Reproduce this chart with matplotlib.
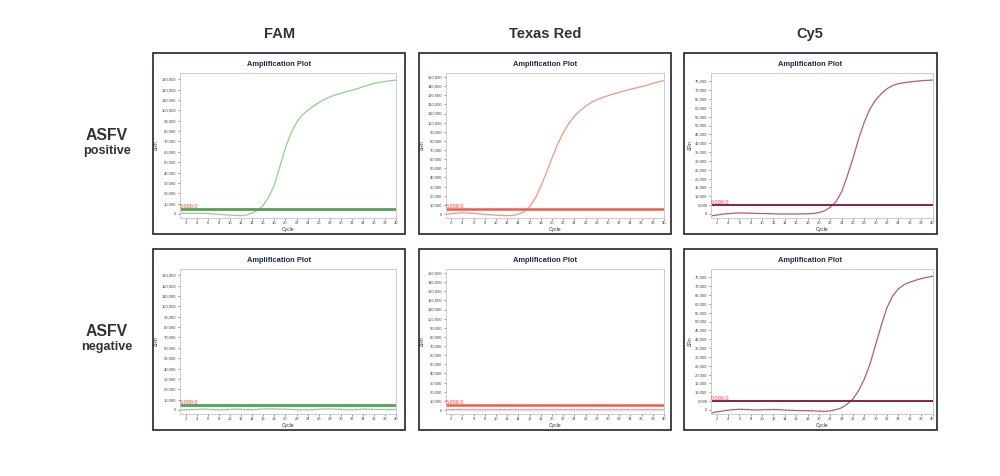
import matplotlib.pyplot as plt
from matplotlib.patches import Rectangle

plt.rcParams['font.family'] = ['Liberation Sans', 'DejaVu Sans']

W, H = 1000, 476

cycles = list(range(1, 41))

fam_pos = [500, 600, 700, 700, 600, 400, 0, -400, -800, -1100, -1400, -1600, -1000, 800,
           3500, 8500, 16500, 28000, 46000, 64000, 78000, 88500, 95500, 100000, 104000,
           107500, 110500, 113000, 115000, 116500, 118000, 119500, 121000, 123000, 124500,
           126000, 127000, 128000, 128700, 129200]
tr_pos = [-500, 300, 1000, 1400, 1200, 700, 200, -300, -800, -1200, -1600, -1800, -1500, -300,
          2500, 8000, 17000, 30000, 45000, 61000, 76000, 89000, 99000, 107000, 113000,
          118000, 122000, 125000, 127500, 129500, 131500, 133000, 135000, 136500, 138000,
          139500, 141000, 143000, 144500, 146000]
cy5_pos = [-1100, -600, -100, 200, 450, 570, 550, 450, 350, 250, 200, 100, 0, 0, 0, 0, 50,
           100, 250, 800, 1800, 3800, 7000, 12500, 21500, 31500, 42500, 52000, 59500, 64500,
           68000, 70800, 72600, 73600, 74200, 74600, 75000, 75300, 75500, 75700]
fam_neg = [0, 100, 300, 600, 900, 700, 300, 100, 200, 500, 800, 600, 300, 300, 600, 900, 1000,
           1000, 900, 800, 500, 200, 100, 100, 300, 700, 900, 900, 800, 600, 300, 200, 400, 800,
           700, 500, 400, 400, 400, 400]
tr_neg = [300, 300, 350, 350, 300, 300, 250, 250, 300, 300, 350, 300, 300, 250, 250, 300, 300,
          300, 350, 300, 300, 250, 250, 300, 300, 300, 350, 350, 300, 300, 250, 250, 300, 300,
          300, 300, 350, 300, 300, 300]
cy5_neg = [-1700, -1100, -600, -100, 200, 400, 300, 100, 0, 100, 200, 250, 150, -50, -200, -300,
           -350, -400, -500, -650, -750, -500, 200, 1200, 3400, 6200, 11000, 17500, 26000, 37000,
           48000, 58000, 64500, 68500, 70800, 72200, 73300, 74200, 74900, 75600]

threshold = 5000
col_titles = ['FAM', 'Texas Red', 'Cy5']
row_titles = [('ASFV', 'positive'), ('ASFV', 'negative')]
series = [[fam_pos, tr_pos, cy5_pos], [fam_neg, tr_neg, cy5_neg]]

y_max = [130000, 150000, 75000]
y_step = [10000, 10000, 5000]
y_lims = [(-3600, 135800), (-4000, 154000), (-2100, 79500)]
curve_colors = ['#8fd08f', '#f79484', '#b35a82']
thr_colors = ['#55a055', '#f25a48', '#8c1f42']
thr_widths = [2.0, 1.8, 1.4]

col_left = [153, 418.5, 684]
row_top = [53, 249]
box_w, box_h = 252.5, 180.5
right_pad = [9, 7, 4]


def fig_rect(x, y, w, h):
    return [x / W, 1 - (y + h) / H, w / W, h / H]


fig = plt.figure(figsize=(10, 4.76), dpi=100)

for c, t in enumerate(col_titles):
    fig.text((col_left[c] + box_w / 2) / W, 1 - 34 / H, t, ha='center', va='center',
             fontsize=10.5, fontweight='bold', color='#333333')

for r, (a, b) in enumerate(row_titles):
    yc = row_top[r] + 82
    fig.text(107 / W, 1 - yc / H, a, ha='center', va='center', fontsize=11.3,
             fontweight='bold', color='#333333')
    fig.text(107 / W, 1 - (yc + 16) / H, b, ha='center', va='center', fontsize=9.1,
             fontweight='bold', color='#333333')

for r in range(2):
    for c in range(3):
        x0, y0 = col_left[c], row_top[r]
        fig.add_artist(Rectangle((x0 / W, 1 - (y0 + box_h) / H), box_w / W, box_h / H,
                                 transform=fig.transFigure, fill=False, ec='#1c2238', lw=1.2))
        fig.text((x0 + box_w / 2) / W, 1 - (y0 + 12) / H, 'Amplification Plot', ha='center',
                 va='center', fontsize=5.4, fontweight='bold', color='#1f2a44')

        ax_l = x0 + 27
        ax_t = y0 + 20.3
        ax_w = box_w - 27 - right_pad[c]
        ax_h = 144.4
        ax = fig.add_axes(fig_rect(ax_l, ax_t, ax_w, ax_h))
        ax.plot(cycles, series[r][c], color=curve_colors[c], lw=0.9)
        ax.axhline(threshold, color=thr_colors[c], lw=thr_widths[c])
        ax.text(1.05, threshold + y_lims[c][1] * 0.005, '5,000.0', color='#ff3b2f', fontsize=4,
                ha='left', va='bottom')
        ax.set_xlim(1, 40)
        ax.set_ylim(*y_lims[c])
        ax.set_xticks(range(2, 41, 2))
        yt = list(range(0, y_max[c] + 1, y_step[c]))
        ax.set_yticks(yt)
        ax.set_yticklabels(['{:,}'.format(v) for v in yt])
        ax.tick_params(labelsize=3, length=1.5, width=0.4, pad=1, colors='#444444')
        for s in ax.spines.values():
            s.set_color('#cccccc')
            s.set_linewidth(0.7)
        ax.set_xlabel('Cycle', fontsize=3.6, labelpad=1, color='#333333')
        ax.set_ylabel('\u0394Rn', fontsize=3.6, labelpad=2, color='#333333')

fig.savefig('out.png', dpi=100)
